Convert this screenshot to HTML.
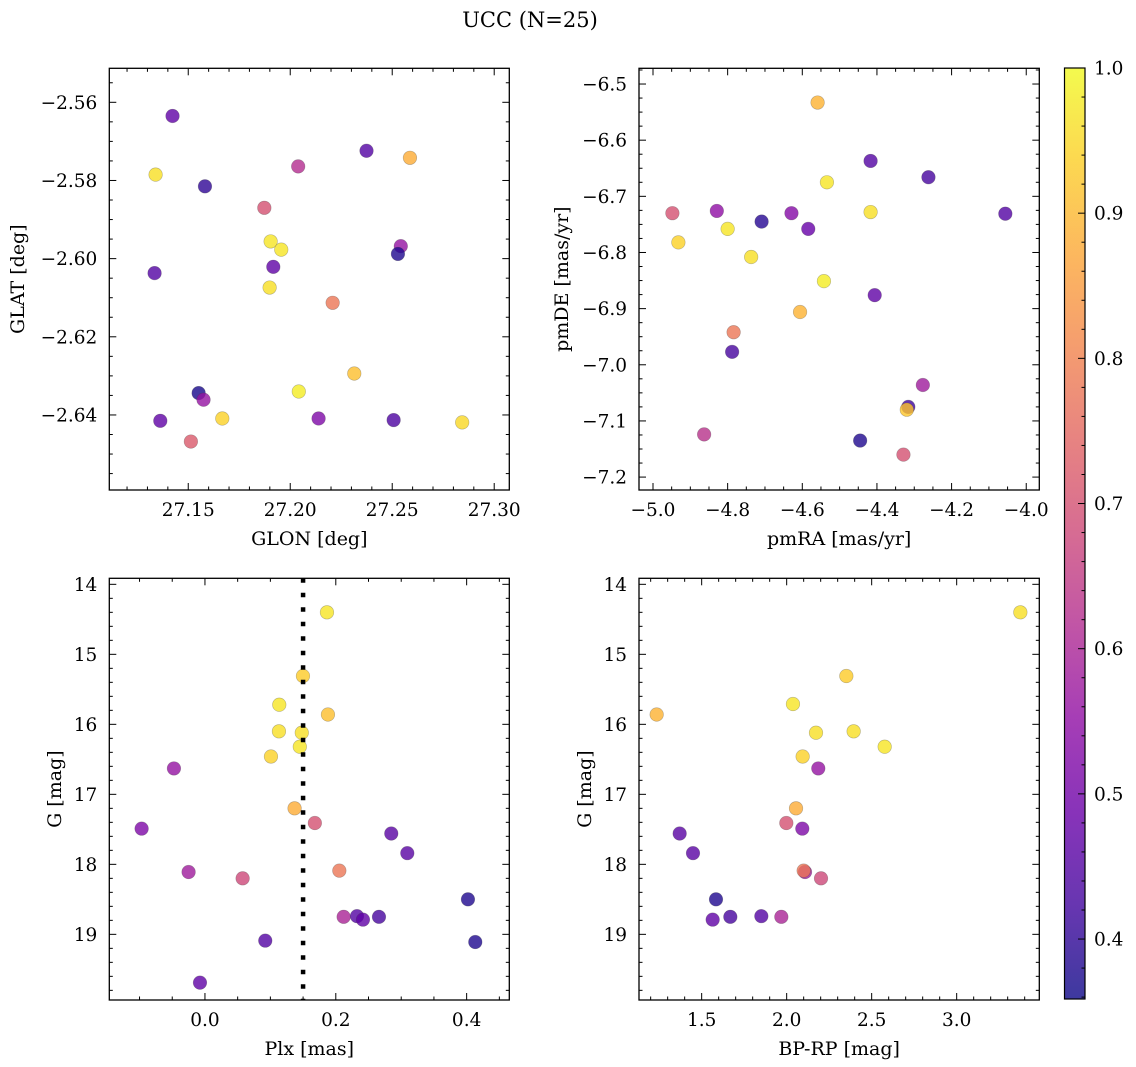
<!DOCTYPE html>
<html><head><meta charset="utf-8">
<style>
html,body{margin:0;padding:0;background:#fff;}
svg{display:block;font-family:"DejaVu Serif","Liberation Serif",serif;}
</style></head>
<body>
<svg id="fig" width="1136" height="1067" viewBox="0 0 1136 1067" xmlns="http://www.w3.org/2000/svg">
<defs>
<linearGradient id="plasmaGrad" x1="0" y1="1" x2="0" y2="0"></linearGradient>
</defs>
<rect width="1136" height="1067" fill="#fff"/>
<text x="530" y="27" font-size="21" text-anchor="middle" fill="#000">UCC (N=25)</text>
</svg>
<script>
// ---- data: panel 1 (GLON/GLAT)
const glon = [27.1423,27.134,27.1582,27.2039,27.2374,27.2587,27.1873,27.1904,27.1956,27.1917,27.2542,27.2528,27.1335,27.1899,27.2208,27.2314,27.1551,27.1575,27.2042,27.1363,27.1667,27.2139,27.2507,27.2843,27.1513];
const glat = [-2.5635,-2.5785,-2.5815,-2.5764,-2.5724,-2.5742,-2.5870,-2.5956,-2.5977,-2.6021,-2.5968,-2.5988,-2.6037,-2.6074,-2.6113,-2.6294,-2.6344,-2.6361,-2.6340,-2.6415,-2.6409,-2.6409,-2.6413,-2.6419,-2.6468];
const probPos = [0.47,0.96,0.40,0.62,0.45,0.88,0.70,0.97,0.97,0.47,0.56,0.38,0.45,0.96,0.78,0.91,0.37,0.56,0.98,0.47,0.94,0.52,0.44,0.95,0.72];
// ---- data: panel 2 (pmRA/pmDE)
const pmra = [-4.559,-4.417,-4.262,-4.534,-4.948,-4.829,-4.629,-4.417,-4.056,-4.709,-4.800,-4.584,-4.932,-4.737,-4.542,-4.406,-4.606,-4.784,-4.788,-4.277,-4.316,-4.320,-4.863,-4.445,-4.329];
const pmde = [-6.533,-6.637,-6.666,-6.675,-6.730,-6.726,-6.730,-6.728,-6.731,-6.745,-6.758,-6.758,-6.782,-6.808,-6.851,-6.876,-6.906,-6.942,-6.977,-7.036,-7.075,-7.080,-7.124,-7.135,-7.160];
const probPm = [0.89,0.45,0.43,0.97,0.70,0.55,0.53,0.96,0.45,0.39,0.97,0.48,0.94,0.96,0.98,0.47,0.89,0.78,0.43,0.58,0.42,0.92,0.63,0.38,0.70];
// ---- data: panel 3 (Plx/G)
const plx = [0.1865,0.1498,0.1136,0.188,0.1131,0.148,0.145,0.1009,-0.0474,0.137,0.168,-0.0968,0.2848,0.3093,-0.025,0.2054,0.0576,0.402,0.212,0.2324,0.2415,0.266,0.0922,0.4132,-0.0076];
const gmagPlx = [14.40,15.31,15.72,15.86,16.10,16.12,16.32,16.46,16.63,17.20,17.41,17.49,17.56,17.84,18.11,18.09,18.20,18.50,18.75,18.74,18.79,18.75,19.09,19.11,19.69];
const probPlx = [0.97,0.93,0.97,0.91,0.96,0.96,0.97,0.94,0.56,0.88,0.70,0.52,0.46,0.46,0.58,0.78,0.68,0.38,0.60,0.45,0.47,0.43,0.45,0.38,0.47];
const plxLine = [0.15];
// ---- data: panel 4 (BP-RP/G)
const bprp = [3.3745,2.351,2.037,1.2353,2.1725,2.394,2.5765,2.094,2.186,2.055,1.998,2.092,1.3706,1.449,2.108,2.100,2.202,1.5843,1.9686,1.6686,1.5647,1.851];
const gmagCmd = [14.40,15.31,15.71,15.86,16.12,16.10,16.32,16.46,16.63,17.20,17.41,17.49,17.56,17.84,18.11,18.09,18.20,18.50,18.75,18.75,18.79,18.74];
const probCmd = [0.96,0.93,0.97,0.89,0.96,0.96,0.97,0.94,0.56,0.88,0.70,0.52,0.46,0.46,0.58,0.78,0.68,0.38,0.60,0.43,0.47,0.45];
// ---- tick labels
const ticks1x = [27.15,27.20,27.25,27.30];
const ticks1y = [-2.56,-2.58,-2.60,-2.62,-2.64];
const ticks2x = [-5.0,-4.8,-4.6,-4.4,-4.2,-4.0];
const ticks2y = [-6.5,-6.6,-6.7,-6.8,-6.9,-7.0,-7.1,-7.2];
const ticks3x = [0.0,0.2,0.4];
const ticksG = [14,15,16,17,18,19];
const ticks4x = [1.5,2.0,2.5,3.0];
const ticksCb = [0.4,0.5,0.6,0.7,0.8,0.9,1.0];
const cbMin = 0.3587, cbMax = 1.0;

const NS = "http://www.w3.org/2000/svg";
const svg = document.getElementById('fig');
const plasma = ["#0d0887","#41049d","#6a00a8","#8f0da4","#b12a90","#cc4778","#e16462","#f2844b","#fca636","#fcce25","#f0f921"];
function hex2rgb(h){return [parseInt(h.substr(1,2),16),parseInt(h.substr(3,2),16),parseInt(h.substr(5,2),16)];}
function cmap(v){
  let t=(v-cbMin)/(cbMax-cbMin); t=Math.max(0,Math.min(1,t));
  const f=t*10, i=Math.min(9,Math.floor(f)), r=f-i;
  const a=hex2rgb(plasma[i]), b=hex2rgb(plasma[i+1]);
  return 'rgb('+a.map((x,k)=>Math.round(x+(b[k]-x)*r)).join(',')+')';
}
function mk(tag,attrs,parent){const e=document.createElementNS(NS,tag);for(const k in attrs)e.setAttribute(k,attrs[k]);(parent||svg).appendChild(e);return e;}
function fmt(v,d){let s=v.toFixed(d);return s.replace('-','\u2212');}

function panel(o){
  const g=mk('g',{});
  
  
  const X=v=>o.L+(v-o.x0)/(o.x1-o.x0)*(o.R-o.L);
  const Y=v=>o.T+(v-o.y0)/(o.y1-o.y0)*(o.B-o.T);
  for(let i=0;i<o.xs.length;i++){
    const c=mk('circle',{cx:X(o.xs[i]),cy:Y(o.ys[i]),r:6.8,fill:cmap(o.cs[i]),'fill-opacity':0.8,stroke:'rgba(60,60,60,0.35)','stroke-width':0.6},g);
    
    
  }
  if(o.vline){
    for(const v of o.vline){
      const l=mk('line',{x1:X(v),x2:X(v),y1:o.T,y2:o.B,stroke:'#000','stroke-width':4.5,'stroke-dasharray':'4.5 10'},g);
      
      
    }
  }
  const tk=mk('g',{stroke:'#000','stroke-width':1},g);
  const xmin=Math.min(o.x0,o.x1), xmax=Math.max(o.x0,o.x1);
  const ymin=Math.min(o.y0,o.y1), ymax=Math.max(o.y0,o.y1);
  const eps=1e-9;
  for(let v=Math.ceil(xmin/o.xminor-eps)*o.xminor; v<=xmax+eps; v+=o.xminor){
    const isMaj=o.xt.some(t=>Math.abs(t-v)<o.xminor/10); const len=isMaj?7:3.5; const x=X(v);
    mk('line',{x1:x,x2:x,y1:o.B,y2:o.B-len},tk); mk('line',{x1:x,x2:x,y1:o.T,y2:o.T+len},tk);
  }
  for(let v=Math.ceil(ymin/o.yminor-eps)*o.yminor; v<=ymax+eps; v+=o.yminor){
    const isMaj=o.yt.some(t=>Math.abs(t-v)<o.yminor/10); const len=isMaj?7:3.5; const y=Y(v);
    mk('line',{x1:o.L,x2:o.L+len,y1:y,y2:y},tk); mk('line',{x1:o.R,x2:o.R-len,y1:y,y2:y},tk);
  }
  const fr=mk('rect',{x:o.L,y:o.T,width:o.R-o.L,height:o.B-o.T,fill:'none',stroke:'#000','stroke-width':1.3},g);
  
  
  for(const t of o.xt){
    const e=mk('text',{x:X(t),y:o.B+26,'font-size':18.5,'text-anchor':'middle',fill:'#000'},g);
    e.textContent=fmt(t,o.xd);
    
    
  }
  for(const t of o.yt){
    const e=mk('text',{x:o.L-12,y:Y(t)+6.5,'font-size':18.5,'text-anchor':'end',fill:'#000'},g);
    e.textContent=fmt(t,o.yd);
    
    
  }
  const xl=mk('text',{x:(o.L+o.R)/2,y:o.B+55,'font-size':19,'text-anchor':'middle',fill:'#000'},g);
  xl.textContent=o.xlabel;
  
  
  const yl=mk('text',{x:0,y:0,'font-size':19,'text-anchor':'middle',fill:'#000',transform:'translate('+o.ylx+','+((o.T+o.B)/2)+') rotate(-90)'},g);
  yl.textContent=o.ylabel;
  
  
}

panel({name:'panel-glon-glat',L:109.3,R:509.3,T:68.3,B:490,x0:27.1113,x1:27.3074,y0:-2.5513,y1:-2.6592,
  xs:glon,ys:glat,cs:probPos,xt:ticks1x,yt:ticks1y,xminor:0.01,yminor:0.005,xd:2,yd:2,
  xlabel:'GLON [deg]',ylabel:'GLAT [deg]',ylx:24});
panel({name:'panel-pmra-pmde',L:639,R:1039.3,T:68.3,B:490,x0:-5.0375,x1:-3.965,y0:-6.472,y1:-7.223,
  xs:pmra,ys:pmde,cs:probPm,xt:ticks2x,yt:ticks2y,xminor:0.05,yminor:0.025,xd:1,yd:1,
  xlabel:'pmRA [mas/yr]',ylabel:'pmDE [mas/yr]',ylx:568});
panel({name:'panel-plx-g',L:109.3,R:509.3,T:578.3,B:1000,x0:-0.1462,x1:0.4652,y0:13.914,y1:19.938,
  xs:plx,ys:gmagPlx,cs:probPlx,xt:ticks3x,yt:ticksG,xminor:0.05,yminor:0.2,xd:1,yd:0,vline:plxLine,
  xlabel:'Plx [mas]',ylabel:'G [mag]',ylx:61});
panel({name:'panel-bprp-g',L:639,R:1039.3,T:578.3,B:1000,x0:1.1314,x1:3.486,y0:13.914,y1:19.938,
  xs:bprp,ys:gmagCmd,cs:probCmd,xt:ticks4x,yt:ticksG,xminor:0.1,yminor:0.2,xd:1,yd:0,
  xlabel:'BP-RP [mag]',ylabel:'G [mag]',ylx:591});

const grad=document.getElementById('plasmaGrad');
for(let i=0;i<plasma.length;i++){mk('stop',{offset:(i/10),'stop-color':plasma[i],'stop-opacity':0.8},grad);}
const cbL=1064.5,cbR=1085,cbT=68,cbB=999;
const CY=v=>cbB-(v-cbMin)/(cbMax-cbMin)*(cbB-cbT);
const cbg=mk('g',{});


mk('rect',{x:cbL,y:cbT,width:cbR-cbL,height:cbB-cbT,fill:'url(#plasmaGrad)'},cbg);
mk('rect',{x:cbL,y:cbT,width:cbR-cbL,height:cbB-cbT,fill:'none',stroke:'#000','stroke-width':1.2},cbg);
for(let v=0.36; v<=1.0001; v+=0.02){
  const y=CY(v); const maj=ticksCb.some(t=>Math.abs(t-v)<0.001);
  mk('line',{x1:cbR,x2:cbR-(maj?7:3.5),y1:y,y2:y,stroke:'#000','stroke-width':1},cbg);
}
for(const t of ticksCb){
  const e=mk('text',{x:cbR+9,y:CY(t)+6.5,'font-size':18.5,fill:'#000'},cbg);
  e.textContent=t.toFixed(1);
  
  
}
</script>
</body></html>
